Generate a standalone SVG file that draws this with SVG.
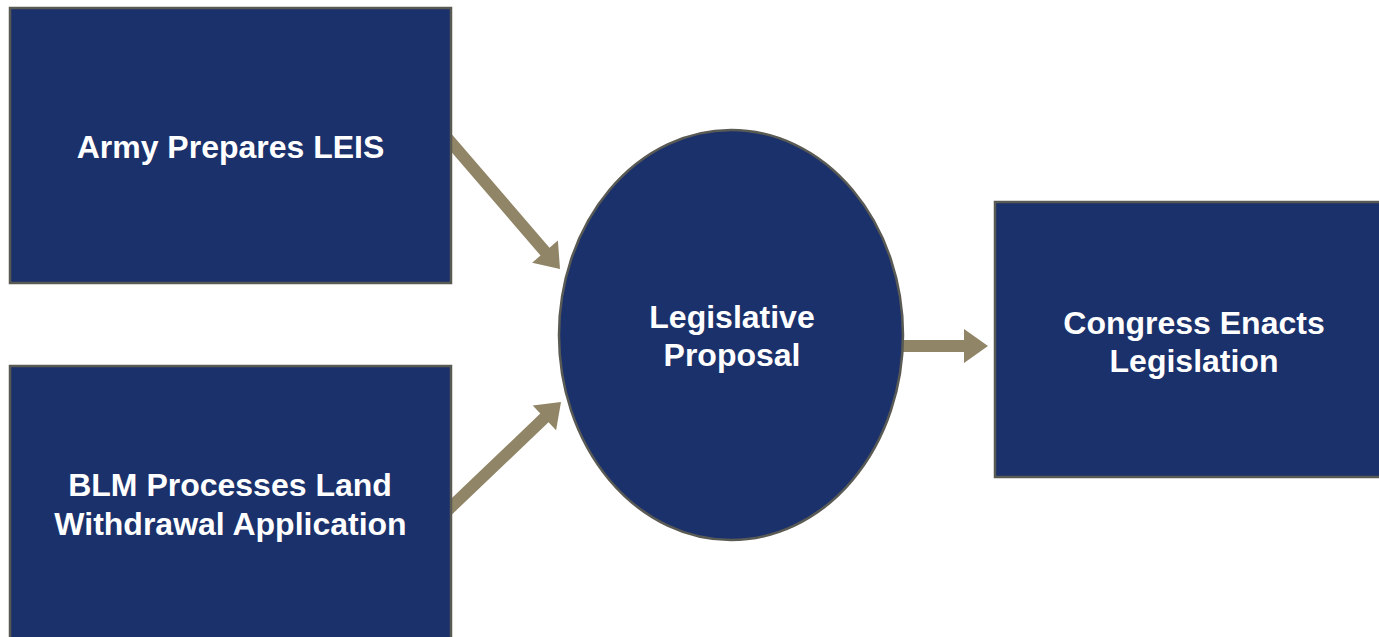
<svg xmlns="http://www.w3.org/2000/svg" width="1379" height="637" viewBox="0 0 1379 637">
  <style>
    .box { fill: #1b316b; stroke: #5a5a55; stroke-width: 2.5; }
    .label { fill: #ffffff; font-family: "Liberation Sans", Arial, sans-serif; font-weight: bold; font-size: 32px; text-anchor: middle; }
    .arrow { fill: #908566; stroke: none; }
  </style>
  <rect width="1379" height="637" fill="#ffffff"/>

  <g id="connectors">
    <!-- Army Prepares LEIS -> Legislative Proposal -->
    <polygon class="arrow" points="449.0,131.0 549.5,247.7 557.9,240.5 560,269 532.1,262.7 540.5,255.5 440.0,138.8"/>
    <!-- BLM -> Legislative Proposal -->
    <polygon class="arrow" points="438.7,510.6 540.3,413.6 532.7,405.6 561,402 556.1,430.2 548.5,422.2 447.0,519.2"/>
    <!-- Legislative Proposal -> Congress Enacts Legislation -->
    <polygon class="arrow" points="900,340 964,340 964,329 988,346 964,363 964,352 900,352"/>
  </g>

  <g id="node-army">
    <rect class="box" x="10" y="8" width="441" height="275"/>
    <text class="label" x="230.5" y="158">Army Prepares LEIS</text>
  </g>

  <g id="node-blm">
    <rect class="box" x="10" y="366" width="441" height="280"/>
    <text class="label" x="230" y="496">BLM Processes Land</text>
    <text class="label" x="230.5" y="535">Withdrawal Application</text>
  </g>

  <g id="node-proposal">
    <ellipse class="box" cx="731" cy="335" rx="172" ry="205"/>
    <text class="label" x="732" y="328">Legislative</text>
    <text class="label" x="732" y="366">Proposal</text>
  </g>

  <g id="node-congress">
    <rect class="box" x="995" y="202" width="400" height="275"/>
    <text class="label" x="1194" y="334">Congress Enacts</text>
    <text class="label" x="1194" y="372">Legislation</text>
  </g>
</svg>
